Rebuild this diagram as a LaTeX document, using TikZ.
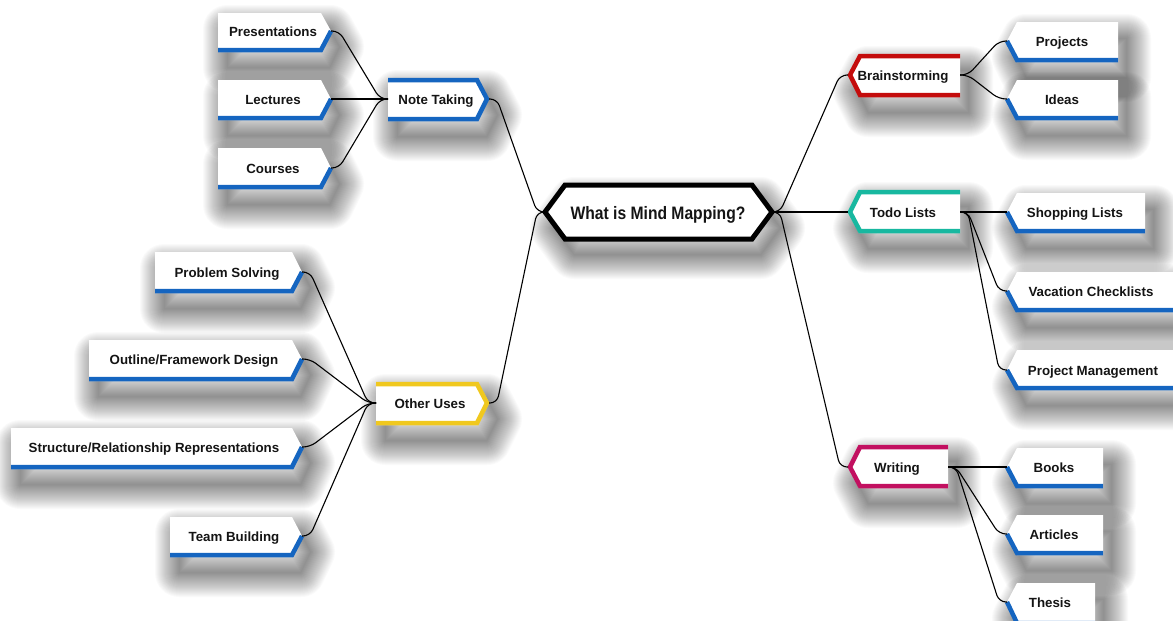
\documentclass[tikz,border=0pt]{standalone}
\usepackage{fontspec}
\setmainfont{Liberation Sans}
\usetikzlibrary{calc}

\pgfdeclarelayer{backdrop}
\pgfdeclarelayer{shadowlayer}
\pgfsetlayers{backdrop,shadowlayer,main}

\definecolor{leafblue}{RGB}{21,101,192}
\definecolor{stormred}{RGB}{196,12,12}
\definecolor{todoteal}{RGB}{24,184,160}
\definecolor{writemagenta}{RGB}{194,16,96}
\definecolor{usesyellow}{RGB}{240,200,30}
\definecolor{inktext}{RGB}{20,20,20}

\tikzset{
  label text/.style={font=\bfseries\fontsize{13.3}{15}\selectfont, text=inktext,
      inner sep=0pt, anchor=base},
  card/.style={fill=white},
  trim/.style={line width=4.5pt, line cap=butt, line join=miter},
  link/.style={draw=black, line width=1.1pt, rounded corners=7pt,
      to path={-- ++(8,0) -- ([xshift=-8pt]\tikztotarget) -- (\tikztotarget)}},
  shadow ring/.style={draw=black, draw opacity=0.019, line join=round},
}

% soft drop shadow: the outline stroked at growing widths, shifted down and right
\newcommand{\castshadow}[1]{%
  \begin{pgfonlayer}{shadowlayer}
    \begin{scope}[shift={(9,16)}]
      \foreach \w in {2,4,...,48} {\path[shadow ring, line width=\w pt] #1;}
      \fill[black, fill opacity=0.02] #1;
    \end{scope}
  \end{pgfonlayer}}

% leaf with its tip on the right: name, left x, right x, top y, bottom y, tip y, text x, text
\newcommand{\leafpointright}[8]{%
  \castshadow{(#2,#4) -- (#3,#4) -- (#3+10,#6) -- (#3,#5) -- (#2,#5) -- cycle}
  \path[card] (#2,#4) -- (#3,#4) -- (#3+10,#6) -- (#3,#5) -- (#2,#5) -- cycle;
  \draw[trim, leafblue] (#2,#5-2) -- (#3,#5-2) -- (#3+10,#6);
  \node[label text] (#1) at (#7,#6+5) {#8};
  \coordinate (#1-tip) at (#3+10,#6);
}

% leaf with its tip on the left: name, tip x, right x, top y, bottom y, tip y, text x, text
\newcommand{\leafpointleft}[8]{%
  \castshadow{(#2,#6) -- (#2+10,#4) -- (#3,#4) -- (#3,#5) -- (#2+10,#5) -- cycle}
  \path[card] (#2,#6) -- (#2+10,#4) -- (#3,#4) -- (#3,#5) -- (#2+10,#5) -- cycle;
  \draw[trim, leafblue] (#2,#6) -- (#2+10,#5-2) -- (#3,#5-2);
  \node[label text] (#1) at (#7,#6+5) {#8};
  \coordinate (#1-tip) at (#2,#6);
}

% branch open on the left, tip on the right:
% name, colour, left x, right x, top y, bottom y, tip y, text x, text
\newcommand{\branchpointright}[9]{%
  \castshadow{(#3,#5) -- (#4,#5) -- (#4+11,#7) -- (#4,#6) -- (#3,#6) -- cycle}
  \path[card] (#3,#5) -- (#4,#5) -- (#4+11,#7) -- (#4,#6) -- (#3,#6) -- cycle;
  \draw[trim, #2] (#3,#5+2) -- (#4-1,#5+2) -- (#4+9,#7) -- (#4-1,#6-2) -- (#3,#6-2);
  \node[label text] (#1) at (#8,#7+5) {#9};
  \coordinate (#1-tip) at (#4+11,#7);
  \coordinate (#1-in) at (#3,#7);
}

% branch with its tip on the left, open on the right:
% name, colour, tip x, right x, top y, bottom y, tip y, text x, text
\newcommand{\branchpointleft}[9]{%
  \castshadow{(#3,#7) -- (#3+11,#5) -- (#4,#5) -- (#4,#6) -- (#3+11,#6) -- cycle}
  \path[card] (#3,#7) -- (#3+11,#5) -- (#4,#5) -- (#4,#6) -- (#3+11,#6) -- cycle;
  \draw[trim, #2] (#4,#5+2) -- (#3+12,#5+2) -- (#3+2,#7) -- (#3+12,#6-2) -- (#4,#6-2);
  \node[label text] (#1) at (#8,#7+5) {#9};
  \coordinate (#1-tip) at (#3,#7);
  \coordinate (#1-out) at (#4,#7);
}

\begin{document}
\begin{tikzpicture}[x=1pt, y=-1pt]
\begin{pgfonlayer}{backdrop}
  \fill[white] (0,0) rectangle (1173,621);
\end{pgfonlayer}
\useasboundingbox (0,0) rectangle (1173,621);

% central topic
\castshadow{(545,212) -- (565,185) -- (752,185) -- (772,212) -- (752,239) -- (565,239) -- cycle}
\draw[fill=white, line width=5pt, line join=miter]
  (545,212) -- (565,185) -- (752,185) -- (772,212) -- (752,239) -- (565,239) -- cycle;
\node[font=\bfseries\fontsize{18}{20}\selectfont, text=inktext, inner sep=0pt, anchor=base]
  (topic) at (658,219) {\scalebox{0.87}[1]{What is Mind Mapping?}};
\coordinate (topic-in) at (545,212);
\coordinate (topic-out) at (772,212);

% main branches
\branchpointright{notes}{leafblue}{388}{478}{78}{121}{99}{436}{Note Taking}
\branchpointright{uses}{usesyellow}{376}{478}{382}{425}{403}{430}{Other Uses}
\branchpointleft{storm}{stormred}{848}{960}{54}{97}{75}{903}{Brainstorming}
\branchpointleft{todo}{todoteal}{848}{960}{190}{233}{212}{903}{Todo Lists}
\branchpointleft{write}{writemagenta}{848}{948}{445}{488}{467}{897}{Writing}

% leaves of Note Taking
\leafpointright{pres}{218}{321}{13}{52}{31}{273}{Presentations}
\leafpointright{lect}{218}{321}{80}{120}{99}{273}{Lectures}
\leafpointright{cour}{218}{321}{148}{189}{168}{273}{Courses}

% leaves of Other Uses
\leafpointright{prob}{155}{292}{252}{293}{272}{227}{Problem Solving}
\leafpointright{outl}{89}{292}{340}{381}{359}{194}{Outline/Framework Design}
\leafpointright{stru}{11}{292}{428}{469}{447}{154}{Structure/Relationship Representations}
\leafpointright{team}{170}{292}{517}{557}{536}{234}{Team Building}

% leaves of Brainstorming
\leafpointleft{proj}{1007}{1118}{22}{62}{41}{1062}{Projects}
\leafpointleft{idea}{1007}{1118}{80}{120}{99}{1062}{Ideas}

% leaves of Todo Lists
\leafpointleft{shop}{1007}{1145}{193}{233}{212}{1075}{Shopping Lists}
\leafpointleft{vaca}{1007}{1185}{272}{312}{291}{1091}{Vacation Checklists}
\leafpointleft{pman}{1007}{1185}{350}{390}{370}{1093}{Project Management}

% leaves of Writing
\leafpointleft{book}{1007}{1103}{448}{488}{467}{1054}{Books}
\leafpointleft{arti}{1007}{1103}{515}{555}{534}{1054}{Articles}
\leafpointleft{thes}{1007}{1095}{583}{625}{602}{1050}{Thesis}

% connectors, each drawn from its left end to its right end
\draw[link] (pres-tip) to (notes-in);
\draw[link] (lect-tip) to (notes-in);
\draw[link] (cour-tip) to (notes-in);

\draw[link] (prob-tip) to (uses-in);
\draw[link] (outl-tip) to (uses-in);
\draw[link] (stru-tip) to (uses-in);
\draw[link] (team-tip) to (uses-in);

\draw[link] (notes-tip) to (topic-in);
\draw[link] (uses-tip) to (topic-in);

\draw[link] (topic-out) to (storm-tip);
\draw[link] (topic-out) to (todo-tip);
\draw[link] (topic-out) to (write-tip);

\draw[link] (storm-out) to (proj-tip);
\draw[link] (storm-out) to (idea-tip);

\draw[link] (todo-out) to (shop-tip);
\draw[link] (todo-out) to (vaca-tip);
\draw[link] (todo-out) to (pman-tip);

\draw[link] (write-out) to (book-tip);
\draw[link] (write-out) to (arti-tip);
\draw[link] (write-out) to (thes-tip);
\end{tikzpicture}
\end{document}
